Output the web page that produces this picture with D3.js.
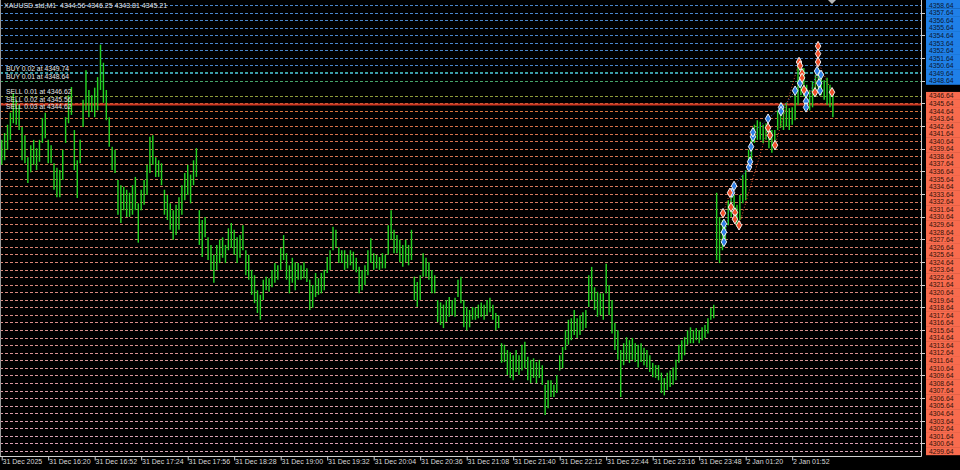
<!DOCTYPE html>
<html><head><meta charset="utf-8">
<script src="https://cdn.jsdelivr.net/npm/d3@7"></script>
<style>html,body{margin:0;padding:0;background:#000;}svg{display:block;}</style>
</head><body>
<svg id="chart" width="960" height="470"></svg>
<script>
// ---------------- DATA ----------------
const symbolTitle = "XAUUSD.std,M1  4344.56 4346.25 4343.81 4345.21";

// time axis (bar index of each label, M1 bars)
const timeTickBars = [0,32,64,96,128,160,192,224,256,288,320,352,384,416,448,480,512,544];
const timeLabels = ["31 Dec 2025","31 Dec 16:20","31 Dec 16:52","31 Dec 17:24","31 Dec 17:56","31 Dec 18:28",
  "31 Dec 19:00","31 Dec 19:32","31 Dec 20:04","31 Dec 20:36","31 Dec 21:08","31 Dec 21:40","31 Dec 22:12",
  "31 Dec 22:44","31 Dec 23:16","31 Dec 23:48","2 Jan 01:20","2 Jan 01:52"];

// price labels on right axis
const priceLevels = [4358.64,4357.64,4356.64,4355.64,4354.64,4353.64,4352.64,4351.64,4350.64,4349.64,4348.64,
  4346.64,4345.64,4344.64,4343.64,4342.64,4341.64,4340.64,4339.64,4338.64,4337.64,4336.64,4335.64,4334.64,
  4333.64,4332.64,4331.64,4330.64,4329.64,4328.64,4327.64,4326.64,4325.64,4324.64,4323.64,4322.64,4321.64,
  4320.64,4319.64,4318.64,4317.64,4316.64,4315.64,4314.64,4313.64,4312.64,4311.64,4310.64,4309.64,4308.64,
  4307.64,4306.64,4305.64,4304.64,4303.64,4302.64,4301.64,4300.64,4299.64];
const blueLevelMin = 4348.64;

// bars: one sample every 2 M1 bars (bar index = 2*k)
const barHighs = [4340.8,4341.7,4342.8,4344.4,4347.0,4346.1,4345.4,4342.5,4341.4,4338.5,
4340.1,4340.8,4339.7,4340.8,4343.7,4344.4,4340.8,4340.1,4337.7,4337.1,
4336.8,4339.5,4343.8,4346.7,4347.8,4342.1,4338.1,4340.8,4346.1,4350.0,
4347.4,4346.7,4347.7,4349.1,4353.4,4351.0,4347.4,4343.8,4339.9,4339.5,
4335.5,4334.8,4334.6,4334.2,4333.8,4334.8,4335.9,4332.4,4334.2,4335.5,
4337.5,4341.2,4341.4,4338.5,4338.1,4337.7,4334.2,4333.5,4332.4,4331.5,
4332.2,4333.2,4334.8,4336.4,4337.5,4336.2,4338.1,4339.7,4331.5,4330.2,
4330.6,4327.9,4326.9,4325.6,4326.9,4327.6,4327.9,4326.9,4329.1,4329.8,
4328.9,4327.9,4328.2,4329.5,4326.2,4325.6,4323.6,4322.9,4320.9,4320.3,
4322.3,4322.7,4322.5,4323.6,4324.5,4324.2,4326.5,4328.2,4325.8,4324.2,
4325.2,4324.6,4324.5,4324.2,4324.6,4323.8,4322.3,4321.6,4323.2,4322.5,
4323.2,4323.6,4325.3,4326.2,4329.3,4328.9,4326.6,4326.2,4326.2,4325.6,
4326.2,4326.0,4325.2,4324.0,4323.6,4324.2,4326.2,4327.8,4325.8,4325.6,
4325.3,4325.8,4325.6,4329.5,4331.5,4328.9,4328.2,4327.6,4326.9,4327.6,
4326.9,4328.9,4322.7,4322.0,4322.9,4325.8,4325.2,4324.6,4323.6,4322.9,
4319.6,4319.3,4319.0,4319.6,4320.0,4319.6,4319.9,4322.3,4322.7,4319.6,
4318.7,4318.3,4318.7,4318.6,4319.0,4319.3,4319.0,4319.6,4319.9,4319.0,
4317.9,4317.6,4313.9,4313.7,4313.0,4312.7,4312.3,4313.0,4312.3,4313.7,
4314.1,4312.1,4311.7,4311.9,4311.4,4311.7,4311.0,4308.4,4309.0,4309.0,
4308.4,4309.7,4312.3,4313.4,4315.6,4317.0,4317.2,4318.3,4317.2,4317.6,
4318.0,4318.3,4322.9,4324.0,4321.3,4320.7,4320.5,4320.5,4324.4,4321.6,
4319.6,4316.6,4315.6,4313.0,4313.9,4314.7,4314.3,4314.6,4313.9,4313.7,
4313.9,4313.3,4313.0,4312.3,4311.3,4311.0,4311.0,4310.0,4309.3,4310.0,
4310.3,4310.7,4311.7,4313.7,4314.3,4314.7,4315.6,4316.0,4315.6,4315.9,
4315.6,4316.0,4316.3,4317.2,4318.6,4319.0,
4333.8,4330.6,4330.2,4329.8,
4332.8,4334.2,4333.5,4332.2,4333.5,4336.2,4336.8,4339.5,4341.4,4342.8,
4343.4,4343.2,4342.8,4343.0,4342.5,4342.1,4342.1,4344.7,4345.7,4345.4,
4345.7,4345.0,4345.1,4346.7,4350.7,4351.1,4350.3,4348.1,4347.4,4348.5,
4349.4,4350.3,4349.6,4348.7,4349.0,4348.1,4347.4];
const barLows = [4337.5,4338.1,4339.5,4340.8,4343.0,4342.8,4342.1,4338.1,4337.7,4335.1,
4336.5,4337.5,4336.8,4337.9,4340.4,4341.0,4337.7,4337.7,4334.2,4333.2,
4333.2,4335.5,4340.4,4343.0,4344.1,4336.8,4333.1,4337.7,4342.5,4344.7,
4343.8,4344.5,4343.8,4344.7,4347.4,4345.7,4343.4,4339.9,4336.8,4336.4,
4330.9,4329.8,4331.5,4330.6,4330.6,4330.9,4331.5,4327.2,4331.5,4332.2,
4333.5,4336.4,4337.5,4335.9,4335.9,4334.8,4330.9,4330.2,4328.9,4327.6,
4328.2,4328.9,4330.9,4332.8,4333.5,4332.4,4334.8,4335.9,4326.9,4325.3,
4327.9,4324.9,4323.6,4321.9,4323.6,4324.5,4325.2,4324.5,4326.2,4326.5,
4325.6,4324.5,4325.2,4326.2,4322.9,4322.3,4320.3,4319.2,4317.9,4317.0,
4319.6,4320.9,4320.7,4321.3,4321.9,4322.3,4323.6,4324.9,4322.3,4320.5,
4321.9,4320.9,4322.3,4322.3,4322.5,4322.0,4318.3,4318.6,4320.0,4320.3,
4320.5,4320.9,4323.2,4323.6,4326.2,4326.6,4324.5,4324.5,4323.6,4323.8,
4324.2,4323.6,4323.3,4320.5,4320.9,4321.6,4322.9,4324.5,4323.6,4323.8,
4323.6,4323.8,4323.8,4325.6,4327.6,4325.8,4325.8,4324.6,4324.0,4324.6,
4324.2,4324.9,4319.6,4318.7,4319.6,4322.7,4322.7,4322.3,4320.5,4320.5,
4316.7,4316.3,4315.9,4316.7,4317.4,4317.6,4317.4,4320.0,4319.2,4316.0,
4315.6,4316.0,4317.0,4317.0,4317.2,4317.4,4317.0,4317.6,4318.0,4317.0,
4315.6,4315.9,4311.3,4311.4,4309.7,4309.3,4309.0,4310.1,4309.7,4310.3,
4310.6,4309.0,4308.6,4309.3,4308.6,4309.3,4308.4,4304.4,4305.3,4306.8,
4306.8,4307.3,4310.3,4310.6,4313.0,4313.7,4314.3,4315.0,4314.6,4315.0,
4315.6,4315.9,4318.7,4319.6,4318.3,4317.4,4317.6,4317.0,4320.5,4317.6,
4315.2,4313.0,4311.7,4306.8,4311.0,4311.7,4311.3,4311.7,4311.4,4310.7,
4311.4,4311.0,4310.7,4310.1,4309.4,4309.3,4309.0,4307.3,4307.0,4307.7,
4308.1,4308.4,4309.0,4311.3,4311.7,4312.3,4313.7,4313.9,4313.9,4314.3,
4313.9,4314.3,4314.6,4315.2,4317.0,4317.2,
4324.9,4324.5,4326.2,4327.2,
4329.5,4330.6,4330.9,4329.3,4330.2,4332.4,4332.8,4336.8,4338.1,4340.4,
4340.8,4340.8,4340.4,4340.8,4339.7,4339.1,4339.5,4342.1,4342.4,4342.1,
4342.5,4342.1,4342.8,4343.4,4345.4,4346.7,4346.5,4345.0,4344.7,4345.1,
4346.5,4347.4,4346.7,4346.1,4345.4,4345.1,4343.8];

// order lines
const orderLabels = ["BUY 0.02 at 4349.74","BUY 0.01 at 4348.64","SELL 0.01 at 4346.62","SELL 0.02 at 4345.56","SELL 0.03 at 4344.62"];
const orderPrices = [4349.74,4348.64,4346.62,4345.56,4344.62];

// trade arrows (bar index, price)
const buyBars = [497,497,497,502.6,504,514.3,515,515.7,517,517,527.4,536.3,536.3,546,549.4,553.5,553.5,553.5,561.1,562.5,563.1,563.8];
const buyPrices = [4329.7,4328.6,4327.3,4333.8,4334.7,4337.2,4337.9,4339.9,4341.2,4341.8,4343.6,4345.1,4344.6,4347.3,4348.3,4347.0,4345.9,4345.1,4349.9,4348.3,4347.3,4349.4];
const sellBars = [496.4,501.2,501.9,504.6,504.6,507.4,527.4,528.7,532.2,548.7,549.4,550.8,550.8,552.1,559.7,561.8,561.8,561.8,571.4];
const sellPrices = [4331.1,4333.8,4331.9,4331.2,4330.3,4329.5,4342.4,4341.4,4340.1,4351.1,4350.6,4349.6,4349.0,4347.4,4347.1,4353.2,4352.2,4351.1,4347.1];

// ---------------- DRAW ----------------
const svg = d3.select("#chart");
const FONT = "'Liberation Sans', Arial, sans-serif";
const plotR = 921, plotB = 456;

svg.append("rect").attr("width",960).attr("height",470).attr("fill","#000");

const x = d3.scaleLinear().domain([0, 32]).range([1.7, 1.7 + 46.5]);
const y = d3.scaleLinear().domain([4299.64, 4358.64]).range([451, 5]);

const plot = svg.append("g");
svg.append("clipPath").attr("id","clip").append("rect").attr("x",0).attr("y",0).attr("width",plotR).attr("height",plotB);
plot.attr("clip-path","url(#clip)");

// grid lines
const orangeCol = d3.interpolateRgb("#d56b3e", "#dba2b6");
plot.append("g").selectAll("line").data(priceLevels).join("line")
  .attr("x1",0).attr("x2",plotR)
  .attr("y1",d=>Math.round(y(d))+0.5).attr("y2",d=>Math.round(y(d))+0.5)
  .attr("stroke",d=> d>=4350.64 ? "#4a86cc" : (d>=blueLevelMin ? "#3f8fb0" : orangeCol((4346.64-d)/47)))
  .attr("stroke-width",1).attr("stroke-dasharray","3,2");

// order lines
const orderStyle = [
  {c:"#36a89c",dash:"3,2",w:1},
  {c:"#45a56a",dash:"3,2",w:1},
  {c:"#8e9a3a",dash:"3,2",w:1},
  {c:"#cf3a24",dash:null,w:2.2},
  {c:"#d8743c",dash:"3,2",w:1}
];
const og = plot.append("g");
orderPrices.forEach((p,i)=>{
  const yy = Math.round(y(p))+0.5;
  const l = og.append("line").attr("x1",0).attr("x2",plotR).attr("y1",yy).attr("y2",yy)
    .attr("stroke",orderStyle[i].c).attr("stroke-width",orderStyle[i].w);
  if(orderStyle[i].dash) l.attr("stroke-dasharray",orderStyle[i].dash);
});

// bars
const bars = barHighs.map((h,k)=>({i:2*k, h, l:barLows[k]}));
plot.append("g").selectAll("line").data(bars).join("line")
  .attr("x1",d=>x(d.i)).attr("x2",d=>x(d.i))
  .attr("y1",d=>y(d.h)).attr("y2",d=>y(d.l))
  .attr("stroke","#22cf22").attr("stroke-width",1.45);

// trade dotted lines
const buys = buyBars.map((b,i)=>({b,p:buyPrices[i]})).sort((a,c)=>a.b-c.b);
const sells = sellBars.map((b,i)=>({b,p:sellPrices[i]})).sort((a,c)=>a.b-c.b);
const ln = d3.line().x(d=>x(d.b)).y(d=>y(d.p));
plot.append("path").attr("d",ln(buys)).attr("fill","none").attr("stroke","#3c7fe0").attr("stroke-width",1).attr("stroke-dasharray","1,2");
plot.append("path").attr("d",ln(sells)).attr("fill","none").attr("stroke","#e0502c").attr("stroke-width",1).attr("stroke-dasharray","1,2");

// markers
const sym = d3.symbol().type(d3.symbolDiamond).size(26);
plot.append("g").selectAll("path").data(buys).join("path")
  .attr("d",sym).attr("transform",d=>`translate(${x(d.b)},${y(d.p)})`)
  .attr("fill","#2f7fe6").attr("stroke","#ffffff").attr("stroke-width",0.9);
plot.append("g").selectAll("path").data(sells).join("path")
  .attr("d",sym).attr("transform",d=>`translate(${x(d.b)},${y(d.p)})`)
  .attr("fill","#f0502a").attr("stroke","#ffffff").attr("stroke-width",0.9);

// order labels
svg.append("g").selectAll("text").data(orderLabels).join("text")
  .attr("x",6).attr("y",(d,i)=>y(orderPrices[i])-1.5)
  .attr("fill","#e6e6e6").attr("font-family",FONT).attr("font-size","6.8px").text(d=>d);

// title
svg.append("text").attr("x",4).attr("y",8).attr("fill","#e0e0e0")
  .attr("font-family",FONT).attr("font-size","7px").attr("xml:space","preserve").style("white-space","pre").text(symbolTitle);

// right price axis backgrounds
const step = Math.abs(y(1)-y(0));
svg.append("g").selectAll("rect").data(priceLevels).join("rect")
  .attr("x",926).attr("width",34)
  .attr("y",d=> d===4358.64 ? 0 : y(d)-step/2)
  .attr("height",d=> d===4358.64 ? y(d)+step/2 : step+0.4)
  .attr("fill",d=> d>=blueLevelMin ? "#1f80e8" : "#f86b4e");

const yAxis = d3.axisRight(y).tickValues(priceLevels).tickFormat(d3.format(".2f")).tickSize(0).tickPadding(0);
const ya = svg.append("g").attr("transform","translate(929,0)").call(yAxis);
ya.select(".domain").remove();
ya.selectAll("text").attr("font-family",FONT).attr("font-size","6.8px")
  .attr("fill",d=> d>=blueLevelMin ? "#0c1830" : "#301208").attr("dy","0.33em");

// axis frame lines
svg.append("line").attr("x1",plotR+0.5).attr("x2",plotR+0.5).attr("y1",0).attr("y2",plotB+0.5).attr("stroke","#d0d0d0");
svg.append("line").attr("x1",0).attr("x2",plotR+0.5).attr("y1",plotB+0.5).attr("y2",plotB+0.5).attr("stroke","#d0d0d0");
svg.append("line").attr("x1",0.5).attr("x2",0.5).attr("y1",0).attr("y2",plotB).attr("stroke","#9a9a9a");
// right ticks every 3 levels
svg.append("g").selectAll("line").data(priceLevels.filter(d=>Math.round(4358.64-d)%3===1)).join("line")
  .attr("x1",plotR).attr("x2",plotR+4).attr("y1",d=>Math.round(y(d))+0.5).attr("y2",d=>Math.round(y(d))+0.5)
  .attr("stroke","#d0d0d0");

// bottom time axis
const xAxis = d3.axisBottom(x).tickValues(timeTickBars).tickFormat((d,i)=>timeLabels[i]).tickSize(4).tickPadding(1);
const xa = svg.append("g").attr("transform",`translate(0,${plotB+0.5})`).call(xAxis);
xa.select(".domain").remove();
xa.selectAll(".tick line").attr("stroke","#d0d0d0");
xa.selectAll("text").attr("font-family",FONT).attr("font-size","7px").attr("fill","#d8d8d8")
  .attr("text-anchor","start").attr("dx","0.3").attr("y",3).attr("dy","0.71em");

// chart shift marker
svg.append("path").attr("d","M828,0 L836,0 L832,4 Z").attr("fill","#b8b8b8");
</script>
</body></html>
